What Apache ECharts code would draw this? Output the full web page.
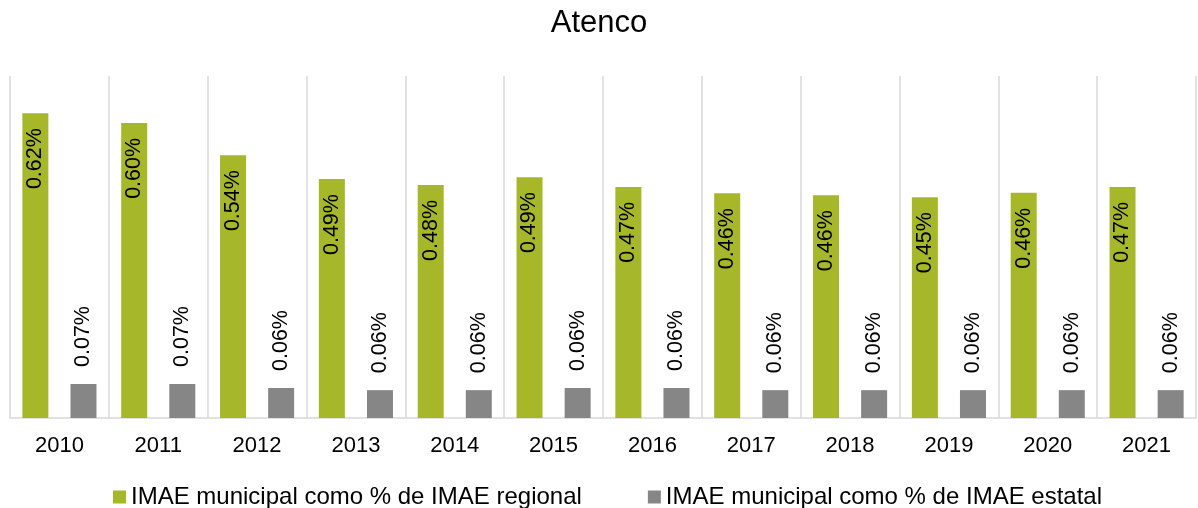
<!DOCTYPE html>
<html>
<head>
<meta charset="utf-8">
<script src="https://cdn.jsdelivr.net/npm/echarts@6/dist/echarts.min.js"></script>
<style>html,body{margin:0;padding:0;background:#fff}#c{width:1198px;height:508px}</style>
</head>
<body>
<div id="c"></div>
<script>
const years = ['2010','2011','2012','2013','2014','2015','2016','2017','2018','2019','2020','2021'];
const regional = [0.624,0.604,0.538,0.489,0.477,0.493,0.473,0.460,0.456,0.452,0.461,0.473];
const estatal = [0.0696,0.0696,0.0614,0.057,0.057,0.0614,0.0614,0.057,0.057,0.057,0.057,0.057];
const seriesNames = ['IMAE municipal como % de IMAE regional','IMAE municipal como % de IMAE estatal'];
const titleText = 'Atenco';

const FONT = '"Liberation Sans", Arial, sans-serif';
const fmt = p => p.value.toFixed(2) + '%';
const chart = echarts.init(document.getElementById('c'));
chart.setOption({
  animation: false,
  backgroundColor: '#fff',
  title: { text: titleText, left: 'center', top: 3, textStyle: { fontFamily: FONT, fontSize: 31, fontWeight: 'normal', color: '#000' } },
  legend: {
    data: seriesNames, top: 480, left: 108, icon: 'rect', itemWidth: 13, itemHeight: 13, itemGap: 66,
    textStyle: { fontFamily: FONT, fontSize: 24, color: '#000' }
  },
  grid: { left: 10, right: 2, top: 76, bottom: 90 },
  xAxis: {
    type: 'category', data: years,
    axisLine: { lineStyle: { color: '#D9D9D9', width: 1.5 } },
    axisTick: { show: false },
    axisLabel: { fontFamily: FONT, fontSize: 22, color: '#000', margin: 17 },
    splitLine: { show: true, lineStyle: { color: '#D9D9D9', width: 1.5 } }
  },
  yAxis: { type: 'value', min: 0, max: 0.7, show: false, splitLine: { show: false } },
  series: [
    {
      name: seriesNames[0], type: 'bar', data: regional, barWidth: 26, barGap: '85%',
      itemStyle: { color: '#A6B829' },
      label: { show: true, position: 'insideTop', distance: 15, rotate: 90, align: 'right', verticalAlign: 'middle',
               formatter: fmt, fontFamily: FONT, fontSize: 21.5, color: '#000' }
    },
    {
      name: seriesNames[1], type: 'bar', data: estatal, barWidth: 26,
      itemStyle: { color: '#868686' },
      label: { show: true, position: 'top', distance: 17, rotate: 90, align: 'left', verticalAlign: 'middle',
               formatter: fmt, fontFamily: FONT, fontSize: 21.5, color: '#000' }
    }
  ]
});
</script>
</body>
</html>
